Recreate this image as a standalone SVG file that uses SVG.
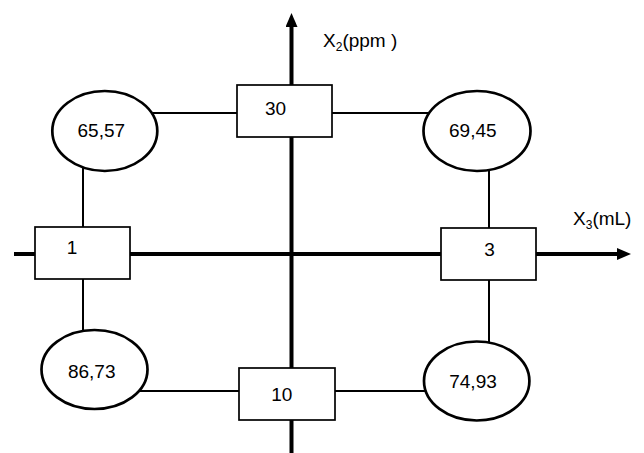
<svg xmlns="http://www.w3.org/2000/svg" width="644" height="453" viewBox="0 0 644 453">
<style>
text{font-family:"Liberation Sans",Arial,sans-serif;font-size:19px;fill:#000}
.c{text-anchor:middle}
.box{fill:#fff;stroke:#000;stroke-width:1.7}
.ell{fill:#fff;stroke:#000;stroke-width:2.7}
.ln{stroke:#000;stroke-width:2;fill:none}
.ax{stroke:#000;stroke-width:4;fill:none}
</style>
<defs>
<marker id="ah" markerWidth="14" markerHeight="12" refX="0" refY="6" orient="auto" markerUnits="userSpaceOnUse">
<path d="M0,0 L14,6 L0,12 Z" fill="#000"/>
</marker>
</defs>
<g id="connectors">
<line class="ax" x1="291.5" y1="453" x2="291.5" y2="27" marker-end="url(#ah)"/>
<line class="ax" x1="14" y1="254" x2="617" y2="254" marker-end="url(#ah)"/>
<line class="ln" x1="153" y1="113" x2="237" y2="113"/>
<line class="ln" x1="332" y1="113" x2="430" y2="113"/>
<line class="ln" x1="83" y1="166" x2="83" y2="227"/>
<line class="ln" x1="83" y1="279" x2="83" y2="333"/>
<line class="ln" x1="489" y1="168" x2="489" y2="228"/>
<line class="ln" x1="489" y1="280" x2="489" y2="344"/>
<line class="ln" x1="138" y1="391" x2="239" y2="391"/>
<line class="ln" x1="335" y1="391" x2="426" y2="391"/>
</g>
<g id="axis-labels">
<text x="323" y="47">X<tspan font-size="12" dy="4">2</tspan><tspan dy="-4">(ppm )</tspan></text>
<text x="573" y="225">X<tspan font-size="12" dy="4">3</tspan><tspan dy="-4">(mL)</tspan></text>
</g>
<g id="node-30">
<rect class="box" x="237" y="85" width="95" height="52"/>
<text class="c" x="275.5" y="115">30</text>
</g>
<g id="node-10">
<rect class="box" x="239" y="368" width="96" height="52"/>
<text class="c" x="281.7" y="401">10</text>
</g>
<g id="node-1">
<rect class="box" x="35" y="227" width="95" height="52"/>
<text class="c" x="72" y="254">1</text>
</g>
<g id="node-3">
<rect class="box" x="441" y="228" width="95" height="52"/>
<text class="c" x="489.5" y="256">3</text>
</g>
<g id="node-6557">
<ellipse class="ell" cx="104.8" cy="131" rx="52.5" ry="40"/>
<text class="c" x="101.3" y="137">65,57</text>
</g>
<g id="node-6945">
<ellipse class="ell" cx="477" cy="131" rx="53.5" ry="40"/>
<text class="c" x="472.8" y="137">69,45</text>
</g>
<g id="node-8673">
<ellipse class="ell" cx="94.5" cy="369.5" rx="53" ry="39.5"/>
<text class="c" x="91.7" y="378">86,73</text>
</g>
<g id="node-7493">
<ellipse class="ell" cx="476.7" cy="381" rx="52.7" ry="39.5"/>
<text class="c" x="473" y="388">74,93</text>
</g>
</svg>
